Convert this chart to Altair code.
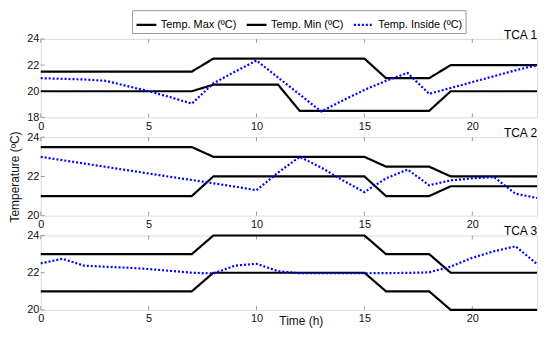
import altair as alt
import pandas as pd

FONT = "Liberation Sans"

hours = list(range(24))
series_names = ["Temp. Max (ºC)", "Temp. Min (ºC)", "Temp. Inside (ºC)"]
panel_names = ["TCA 1", "TCA 2", "TCA 3"]

# TCA 1
tca1_max = [21.5, 21.5, 21.5, 21.5, 21.5, 21.5, 21.5, 21.5, 22.5, 22.5, 22.5, 22.5,
            22.5, 22.5, 22.5, 22.5, 21.0, 21.0, 21.0, 22.0, 22.0, 22.0, 22.0, 22.0]
tca1_min = [20.0, 20.0, 20.0, 20.0, 20.0, 20.0, 20.0, 20.0, 20.5, 20.5, 20.5, 20.5,
            18.5, 18.5, 18.5, 18.5, 18.5, 18.5, 18.5, 20.0, 20.0, 20.0, 20.0, 20.0]
tca1_in = [21.0, 20.95, 20.9, 20.8, 20.4, 20.0, 19.55, 19.05, 20.6, 21.5, 22.35, 21.05,
           19.75, 18.45, 19.3, 20.1, 20.8, 21.4, 19.8, 20.25, 20.7, 21.15, 21.6, 22.0]

# TCA 2
tca2_max = [23.5, 23.5, 23.5, 23.5, 23.5, 23.5, 23.5, 23.5, 23.0, 23.0, 23.0, 23.0,
            23.0, 23.0, 23.0, 23.0, 22.5, 22.5, 22.5, 22.0, 22.0, 22.0, 22.0, 22.0]
tca2_min = [21.0, 21.0, 21.0, 21.0, 21.0, 21.0, 21.0, 21.0, 22.0, 22.0, 22.0, 22.0,
            22.0, 22.0, 22.0, 22.0, 21.0, 21.0, 21.0, 21.5, 21.5, 21.5, 21.5, 21.5]
tca2_in = [23.0, 22.83, 22.66, 22.49, 22.32, 22.15, 21.98, 21.82, 21.65, 21.48, 21.3, 22.2,
           23.0, 22.45, 21.8, 21.2, 21.9, 22.35, 21.55, 21.8, 21.9, 21.97, 21.12, 20.9]

# TCA 3
tca3_max = [23.0, 23.0, 23.0, 23.0, 23.0, 23.0, 23.0, 23.0, 24.0, 24.0, 24.0, 24.0,
            24.0, 24.0, 24.0, 24.0, 23.0, 23.0, 23.0, 22.0, 22.0, 22.0, 22.0, 22.0]
tca3_min = [21.0, 21.0, 21.0, 21.0, 21.0, 21.0, 21.0, 21.0, 22.0, 22.0, 22.0, 22.0,
            22.0, 22.0, 22.0, 22.0, 21.0, 21.0, 21.0, 20.0, 20.0, 20.0, 20.0, 20.0]
tca3_in = [22.5, 22.75, 22.38, 22.32, 22.27, 22.2, 22.1, 22.0, 21.96, 22.38, 22.48, 22.08,
           21.97, 21.97, 21.97, 21.97, 21.98, 21.99, 22.02, 22.33, 22.8, 23.15, 23.42, 22.47]

x_ticks = [0, 5, 10, 15, 20]
y_ticks = [[18, 20, 22, 24], [20, 22, 24], [20, 22, 24]]
y_domains = [[18, 24], [20, 24], [20, 24]]

rows = []
for p, vals3 in zip(panel_names, [(tca1_max, tca1_min, tca1_in),
                                  (tca2_max, tca2_min, tca2_in),
                                  (tca3_max, tca3_min, tca3_in)]):
    for s, vals in zip(series_names, vals3):
        for h, v in zip(hours, vals):
            rows.append({"panel": p, "series": s, "hour": h, "temp": v})
df = pd.DataFrame(rows)

W = 500
heights = [79, 79, 75]
FRAME = "#9a9a9a"

legend = alt.Legend(
    orient="none", legendX=92, legendY=-29, direction="horizontal", title=None,
    symbolType="stroke", symbolSize=400, symbolStrokeWidth=2,
    labelFontSize=11, labelFont=FONT, labelColor="black",
    strokeColor=FRAME, fillColor="white", padding=3, columnPadding=5, labelOffset=3,
)


def panel(i):
    name = panel_names[i]
    h = heights[i]
    xscale = alt.Scale(domain=[0, 23], nice=False, zero=False)
    yscale = alt.Scale(domain=y_domains[i], nice=False, zero=False)
    last = i == 2
    xaxis = alt.Axis(
        values=x_ticks, title="Time (h)" if last else None, grid=False, domain=False,
        ticks=False, tickSize=0, labelPadding=3, labelFontSize=11, labelFont=FONT,
        labelColor="#111", titleFont=FONT, titleFontSize=12, titleFontWeight="normal",
        titleColor="#111", titleX=262, titleY=6, labelFlush=False,
    )
    yaxis = alt.Axis(
        values=y_ticks[i], title="Temperature (ºC)" if i == 1 else None, grid=False,
        domain=False, ticks=False, tickSize=0, labelPadding=2, labelFontSize=11,
        labelFont=FONT, labelColor="#111", titleFont=FONT, titleFontSize=12,
        titleFontWeight="normal", titleColor="#111", titlePadding=5,
    )
    lines = alt.Chart(df).transform_filter(alt.datum.panel == name).mark_line().encode(
        x=alt.X("hour:Q", scale=xscale, axis=xaxis),
        y=alt.Y("temp:Q", scale=yscale, axis=yaxis),
        color=alt.Color("series:N", sort=series_names,
                        scale=alt.Scale(domain=series_names,
                                        range=["#000000", "#000000", "#0000ff"]),
                        legend=legend),
        strokeDash=alt.StrokeDash("series:N", sort=series_names,
                                  scale=alt.Scale(domain=series_names,
                                                  range=[[1, 0], [1, 0], [2, 2]]),
                                  legend=legend),
        strokeWidth=alt.StrokeWidth("series:N",
                                    scale=alt.Scale(domain=series_names, range=[2.2, 2.2, 2.6]),
                                    legend=None),
    )
    xt = pd.DataFrame({"hour": x_ticks})
    yt = pd.DataFrame({"temp": y_ticks[i]})
    top_ticks = alt.Chart(xt).mark_rule(color=FRAME).encode(
        x=alt.X("hour:Q", scale=xscale, axis=xaxis), y=alt.value(0), y2=alt.value(4))
    bot_ticks = alt.Chart(xt).mark_rule(color=FRAME).encode(
        x=alt.X("hour:Q", scale=xscale, axis=xaxis), y=alt.value(h), y2=alt.value(h - 4))
    left_ticks = alt.Chart(yt).mark_rule(color=FRAME).encode(
        y=alt.Y("temp:Q", scale=yscale, axis=yaxis), x=alt.value(0), x2=alt.value(4))
    return alt.layer(top_ticks, bot_ticks, left_ticks, lines).properties(
        width=W, height=h,
        title=alt.TitleParams(name, anchor="end", fontSize=12, fontWeight="normal",
                              font=FONT, color="black", offset=-9, frame="group"),
    )


chart = alt.vconcat(panel(0), panel(1), panel(2), spacing=20, bounds="flush",
                    padding=0).configure_view(stroke=FRAME, strokeWidth=1).configure(
    background="white")

chart.save("out.html", embed_options={"renderer": "svg", "actions": False})
